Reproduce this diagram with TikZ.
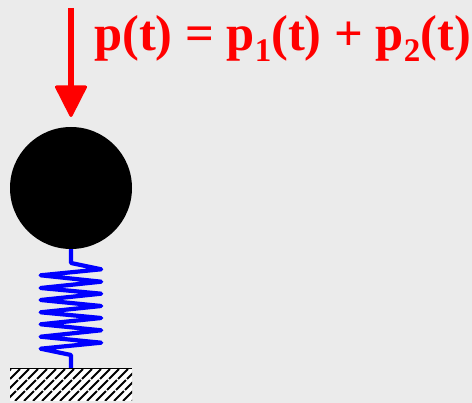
\documentclass[tikz,border=0pt]{standalone}
\usepackage{fontspec}
\setmainfont{Liberation Serif}
\definecolor{bgc}{HTML}{EBEBEB}
\newcommand{\lowdigit}[1]{\raisebox{-11.5pt}{\fontsize{33}{33}\selectfont\bfseries #1}}
\tikzset{
  spring/.style={draw=blue,line width=4.2pt,line join=round},
  forcearrow/.style={draw=red,fill=red,line width=3pt,line join=round},
  hatchline/.style={draw=black,line width=2pt,dash pattern=on 14pt off 1.6pt},
  eq/.style={text=red,font=\fontsize{50.5}{50.5}\selectfont\bfseries,inner sep=0pt,anchor=base west}
}
\begin{document}
\begin{tikzpicture}[x=1pt,y=-1pt]
\useasboundingbox (0,0) rectangle (472,403);
\fill[bgc] (0,0) rectangle (472,403);
% ground
\fill[white] (10,369) rectangle (132,401);
\begin{scope}
\clip (10,369) rectangle (132,401);
\foreach \i in {0,...,20} \draw[hatchline] (\i*9-30,401) -- (\i*9+2,369);
\end{scope}
\draw[black,line width=1.5pt] (10,368.5) -- (132,368.5);
% mass
\node[circle,fill=black,minimum size=122pt,inner sep=0pt] (mass) at (71,188) {};
\coordinate (base) at (71,368);
\draw[spring] (mass.south) -- (71,263) -- (101.2,269.3) -- (40.6,275.3) -- (101.2,281.7) -- (40.6,288) -- (101.2,293.7) -- (40.6,300) -- (101.2,306) -- (40.6,312.3) -- (101.2,318) -- (40.6,324.3) -- (101.2,330.3) -- (40.6,336.7) -- (101.2,342.7) -- (40.6,348.7) -- (71,355) -- (base);
% force
\coordinate (ftop) at (71,8);
\coordinate (fneck) at (71,88);
\draw[red,line width=6pt] (ftop) -- (fneck);
\path[forcearrow] (56.5,87) -- (85.5,87) -- (71,115.5) -- cycle;
\node[eq] (label) at (94,50.5) {p(t) = p\lowdigit{1}(t) + p\lowdigit{2}(t)};
\end{tikzpicture}
\end{document}
